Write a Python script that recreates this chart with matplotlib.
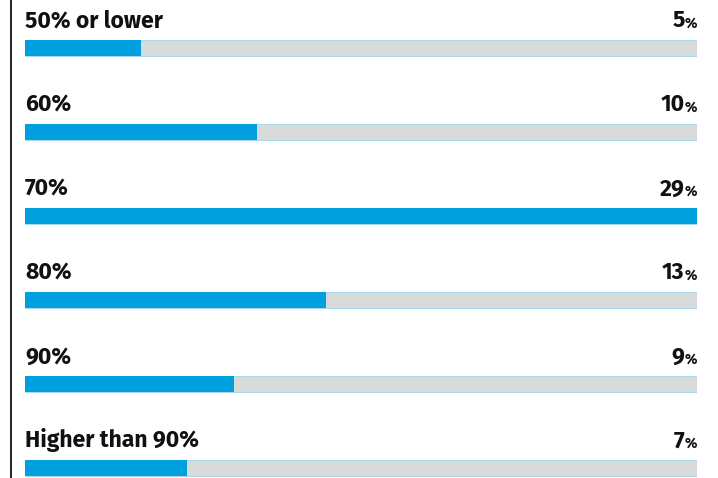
import matplotlib
matplotlib.use("Agg")
import matplotlib.pyplot as plt
from matplotlib.lines import Line2D

categories = ["50% or lower", "60%", "70%", "80%", "90%", "Higher than 90%"]
values = [5, 10, 29, 13, 9, 7]

BLUE = "#009FDE"
GREY = "#D9DBDB"
EDGE = "#A9D9EA"
INK = "#111111"
FONT = ["Fira Sans", "DejaVu Sans"]

W, H = 718, 478
fig = plt.figure(figsize=(W / 100, H / 100), dpi=100)
fig.patch.set_facecolor("white")

# bars span x=25..697 px, row pitch 84 px, first bar centre at 48 px
ax = fig.add_axes([25 / W, 0, 672 / W, 1])
vmax = max(values)
n = len(categories)
ax.set_xlim(0, vmax)
ax.set_ylim((H - 48) / 84, -48 / 84)
ax.axis("off")

ys = list(range(n))
ax.barh(ys, [vmax] * n, height=0.19, color=GREY, edgecolor=EDGE, linewidth=0.8)
ax.barh(ys, values, height=0.19, color=BLUE, edgecolor="none")

# vertical rule on the left
fig.add_artist(Line2D([10.5 / W, 10.5 / W], [0, 1], color=INK, lw=1.3))

fig.canvas.draw()
renderer = fig.canvas.get_renderer()
inv = ax.transData.inverted()
for y, cat, v in zip(ys, categories, values):
    ax.text(0, y - 0.245, cat, ha="left", va="baseline", fontsize=16.5,
            fontweight="bold", color=INK, family=FONT)
    pct = ax.text(vmax, y - 0.245, "%", ha="right", va="baseline", fontsize=10.5,
                  fontweight="bold", color=INK, family=FONT)
    bb = pct.get_window_extent(renderer)
    x0 = inv.transform((bb.x0, bb.y0))[0]
    ax.text(x0, y - 0.245, str(v), ha="right", va="baseline", fontsize=16.5,
            fontweight="bold", color=INK, family=FONT)

fig.savefig("out.png", dpi=100)
